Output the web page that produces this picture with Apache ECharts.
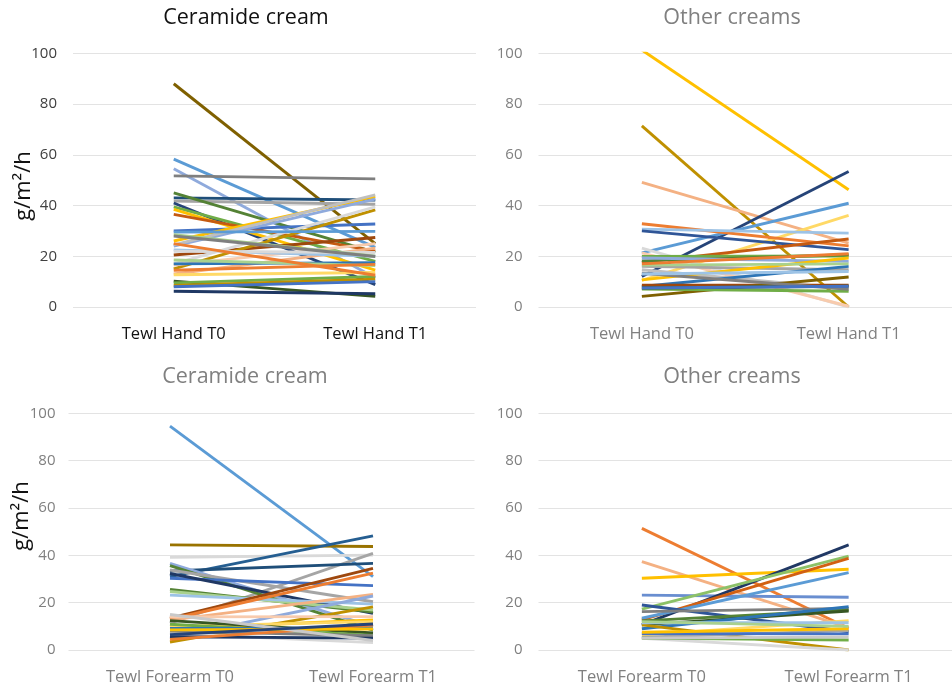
<!DOCTYPE html>
<html>
<head>
<meta charset="utf-8">
<script src="https://cdn.jsdelivr.net/npm/echarts@6/dist/echarts.min.js"></script>
<style>
  html, body { margin: 0; padding: 0; background: #fff; }
  #chart { width: 952px; height: 688px; }
</style>
</head>
<body>
<div id="chart"></div>
<script>
// 类目与刻度
const handCategories = ['Tewl Hand T0', 'Tewl Hand T1'];
const forearmCategories = ['Tewl Forearm T0', 'Tewl Forearm T1'];
const panelTitles = ['Ceramide cream', 'Other creams', 'Ceramide cream', 'Other creams'];
const yTicks = [0, 20, 40, 60, 80, 100];
const unitLabel = 'g/m²/h';

// 左上：Ceramide cream, Hand
const ceramideHandT0 = [88, 58.3, 54.5, 51.7, 43, 41.8, 45, 41, 39.5, 38.5, 36.5, 30, 26, 24, 24.5, 20.5, 15, 17,
    13, 16.5, 22.5, 17, 18.5, 14.5, 12.7, 10.2, 6.2, 9.5, 8.5, 8, 22, 29.5, 28.5, 25, 28];
const ceramideHandT1 = [25, 23.5, 11.5, 50.5, 42.2, 40.5, 21.5, 8.8, 18, 14.5, 22, 32.7, 43.5, 42.5, 44.2, 27.4, 38.3, 39.5,
    23.2, 25, 20, 17.5, 16.3, 16.8, 13.6, 4.2, 5.2, 12, 11, 10, 21.5, 29.8, 20, 12.5, 19.9];

// 右上：Other creams, Hand
const otherHandT0 = [101.3, 71.4, 49.1, 12, 21.3, 10.5, 32.8, 30.7, 30, 17.6, 23.2, 21.3, 19.9, 18.2, 19.3, 16, 14.7, 8.1,
    10.7, 8.6, 4.2, 7.1, 7.5, 13.3, 13, 7.5, 16.5, 17];
const otherHandT1 = [46.2, 0, 25.2, 53.4, 40.9, 36.1, 24.1, 29.1, 22.6, 26.8, 0, 0.3, 20.1, 20.6, 18, 14.7, 7.1, 16,
    19.3, 8.6, 11.8, 6.2, 8.2, 7, 14, 8.2, 17, 21];

// 左下：Ceramide cream, Forearm
const ceramideForearmT0 = [94.6, 44.4, 39.2, 11.3, 31, 33.4, 36.6, 35.6, 33.8, 30.3, 32.3, 25.6, 24.7, 23.2, 13.5, 13,
    12.6, 5, 3.4, 9, 10, 12.4, 10.9, 9.1, 7, 14, 8, 5.6, 4.5, 8.5, 15, 6.5];
const ceramideForearmT1 = [31, 43.7, 40.1, 40.8, 48.2, 36.6, 9.9, 8.4, 20.4, 27.2, 15.5, 16, 16.9, 19.4, 34.5, 32.5,
    23.5, 22.8, 18.2, 12.7, 12, 7.2, 6.2, 9.2, 3.1, 14.1, 6, 5, 10.5, 8.9, 4, 11];

// 右下：Other creams, Forearm
const otherForearmT0 = [51.4, 37.3, 30.3, 23.2, 10.6, 17.3, 12.7, 13.4, 19, 16.2, 12.3, 10.6, 9, 10.6, 6.3, 4.9, 11.5,
    5.4, 7, 5, 7.5, 5, 12];
const otherForearmT1 = [9.2, 9.5, 34.1, 22.3, 44.4, 39.7, 38.7, 32.7, 7.7, 17.6, 16.9, 16.5, 18.3, 0, 12.4, 0, 11.5,
    8.2, 6.8, 4.2, 9, 5.5, 10];

// 线条颜色（按序列顺序）
const ceramideHandColors = ['#7F6000', '#5B9BD5', '#8FAADC', '#7F7F7F', '#1F4E79', '#A5A5A5', '#548235', '#264478',
    '#70AD47', '#FFC000', '#C55A11', '#4472C4', '#FFC000', '#8FAADC', '#BFBFBF', '#9E480E', '#BF9000', '#D9D9D9',
    '#F4B183', '#F8CBAD', '#9DC3E6', '#2E75B6', '#A9D18E', '#ED7D31', '#FFD966', '#375623', '#1F3864', '#70AD47',
    '#BF9000', '#4472C4', '#D9D9D9', '#5B9BD5', '#A9D18E', '#ED7D31', '#7F7F7F'];
const otherHandColors = ['#FFC000', '#BF9000', '#F4B183', '#264478', '#5B9BD5', '#FFD966', '#ED7D31', '#9DC3E6',
    '#2F5597', '#C55A11', '#D9D9D9', '#F8CBAD', '#70AD47', '#548235', '#8FAADC', '#A5A5A5', '#BFBFBF', '#2E75B6',
    '#FFC000', '#9E480E', '#7F6000', '#70AD47', '#375623', '#7F7F7F', '#9DC3E6', '#4472C4', '#A9D18E', '#ED7D31'];
const ceramideForearmColors = ['#5B9BD5', '#997300', '#D9D9D9', '#A5A5A5', '#255E91', '#1F4E79', '#8FAADC', '#548235',
    '#A5A5A5', '#4472C4', '#203864', '#548235', '#A9D18E', '#9DC3E6', '#9E480E', '#ED7D31', '#F4B183', '#8FAADC',
    '#BF9000', '#FFC000', '#FFD966', '#375623', '#70AD47', '#2E75B6', '#D9D9D9', '#F8CBAD', '#7F7F7F', '#1F3864',
    '#ED7D31', '#FFC000', '#C9C9C9', '#264478'];
const otherForearmColors = ['#ED7D31', '#F4B183', '#FFC000', '#698ED0', '#203864', '#8CC168', '#D26012', '#5B9BD5',
    '#2F5597', '#7F7F7F', '#548235', '#375623', '#2E75B6', '#BF9000', '#FFD966', '#D9D9D9', '#9DC3E6', '#A5A5A5',
    '#4472C4', '#70AD47', '#FFC000', '#C9C9C9', '#A9D18E'];

const chart = echarts.init(document.getElementById('chart'));
const FONT = 'Open Sans';
const DARK = '#404040';
const GREY = '#808080';

// 四个面板的布局与配色
const panels = [
    { cats: handCategories, t0: ceramideHandT0, t1: ceramideHandT1, colors: ceramideHandColors,
      grid: { left: 73, top: 53.3, width: 403, height: 253.7 }, titleX: 246, titleY: 7, text: '#111', tick: DARK, cat: '#111' },
    { cats: handCategories, t0: otherHandT0, t1: otherHandT1, colors: otherHandColors,
      grid: { left: 538.5, top: 53.3, width: 424, height: 253.7 }, titleX: 732, titleY: 7, text: GREY, tick: GREY, cat: GREY },
    { cats: forearmCategories, t0: ceramideForearmT0, t1: ceramideForearmT1, colors: ceramideForearmColors,
      grid: { left: 68.5, top: 413.3, width: 406, height: 236.7 }, titleX: 245, titleY: 366, text: GREY, tick: GREY, cat: GREY },
    { cats: forearmCategories, t0: otherForearmT0, t1: otherForearmT1, colors: otherForearmColors,
      grid: { left: 538.5, top: 413.3, width: 424, height: 236.7 }, titleX: 732, titleY: 366, text: GREY, tick: GREY, cat: GREY }
];

const series = [];
panels.forEach((p, idx) => {
    p.t0.forEach((v, i) => {
        series.push({
            type: 'line',
            xAxisIndex: idx,
            yAxisIndex: idx,
            data: [v, p.t1[i]],
            symbol: 'none',
            silent: true,
            lineStyle: { color: p.colors[i % p.colors.length], width: 2.9 }
        });
    });
});

const option = {
    animation: false,
    backgroundColor: '#fff',
    title: panels.map((p, idx) => ({
        text: panelTitles[idx],
        left: p.titleX,
        top: p.titleY,
        textAlign: 'center',
        padding: 0,
        textStyle: { fontFamily: FONT, fontSize: 21.5, fontWeight: 'normal', color: p.text }
    })),
    grid: panels.map(p => p.grid),
    xAxis: panels.map((p, idx) => ({
        type: 'category',
        gridIndex: idx,
        data: p.cats,
        boundaryGap: true,
        axisLine: { show: false },
        axisTick: { show: false },
        axisLabel: { fontFamily: FONT, fontSize: 16.5, color: p.cat, margin: 19 }
    })),
    yAxis: panels.map((p, idx) => ({
        type: 'value',
        gridIndex: idx,
        min: yTicks[0],
        max: yTicks[yTicks.length - 1],
        interval: yTicks[1] - yTicks[0],
        axisLine: { show: false },
        axisTick: { show: false },
        axisLabel: { fontFamily: FONT, fontSize: 15, color: p.tick, margin: idx === 2 ? 13 : 16 },
        splitLine: { lineStyle: { color: '#e3e3e3', width: 1 } }
    })),
    graphic: [
        { type: 'text', x: 24, y: 186, rotation: Math.PI / 2,
          style: { text: unitLabel, font: '22px "Open Sans"', fill: '#111', align: 'center', verticalAlign: 'middle' } },
        { type: 'text', x: 22, y: 516, rotation: Math.PI / 2,
          style: { text: unitLabel, font: '22px "Open Sans"', fill: '#111', align: 'center', verticalAlign: 'middle' } }
    ],
    series: series
};

chart.setOption(option);
</script>
</body>
</html>
